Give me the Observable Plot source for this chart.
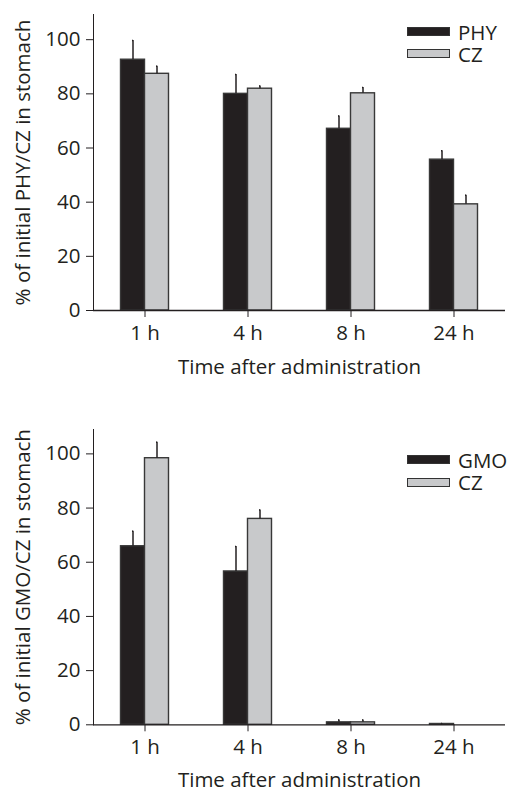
<!DOCTYPE html>
<html><head><meta charset="utf-8">
<script src="https://cdn.jsdelivr.net/npm/d3@7"></script>
<script src="https://cdn.jsdelivr.net/npm/@observablehq/plot@0.6"></script>
<style>
html,body{margin:0;padding:0;background:#fff;}
#wrap{position:relative;width:507px;height:792px;overflow:hidden;background:#fff;}
.panel{position:absolute;left:0;width:507px;}
.sw{position:absolute;width:43px;height:9px;box-sizing:border-box;border:1.5px solid #333;}
.lt{position:absolute;font-family:"Open Sans";font-size:20.5px;line-height:18px;height:18px;color:#231f20;white-space:nowrap;}
</style></head>
<body><div id="wrap"></div>
<script>
// ---- data ----
const times = ["1 h", "4 h", "8 h", "24 h"];
const yTicks = [0, 20, 40, 60, 80, 100];

const topSeries = ["PHY", "CZ"];
const phyValues = [92.6, 80.0, 67.1, 55.7];
const phyErrors = [7.1, 7.1, 4.7, 3.3];
const czTopValues = [87.4, 81.9, 80.2, 39.2];
const czTopErrors = [2.8, 1.0, 2.1, 3.4];

const bottomSeries = ["GMO", "CZ"];
const gmoValues = [65.9, 56.6, 0.9, 0.3];
const gmoErrors = [5.5, 9.2, 0.9, 0.2];
const czBottomValues = [98.4, 76.0, 0.9, 0];
const czBottomErrors = [5.9, 3.3, 0.9, 0];

const barColors = ["#231f20", "#c8c9cb"];

function rowsOf(series, valueArrays, errorArrays) {
  const rows = [];
  times.forEach((t, i) => {
    series.forEach((s, j) => {
      rows.push({time: t, series: s, value: valueArrays[j][i], error: errorArrays[j][i]});
    });
  });
  return rows;
}

function chart({series, rows, ylabel, height, marginTop, marginBottom, ymax, labelOffset}) {
  return Plot.plot({
    width: 507,
    height,
    marginLeft: 91.5,
    marginRight: 1,
    marginTop,
    marginBottom,
    style: {fontFamily: "Open Sans", fontSize: "20.5px", color: "#231f20", background: "#fff", overflow: "visible"},
    fx: {domain: times, padding: 0, axis: "bottom", tickSize: 7, tickPadding: 8,
         label: "Time after administration", labelAnchor: "center", labelOffset},
    x: {domain: series, paddingInner: 0, paddingOuter: 1.12, axis: null},
    y: {domain: [0, ymax], ticks: yTicks, tickSize: 7, tickPadding: 6, line: true,
        label: ylabel, labelAnchor: "center", labelOffset: 78, labelArrow: false},
    color: {domain: series, range: barColors},
    marks: [
      Plot.barY(rows, {fx: "time", x: "series", y: "value", fill: "series", stroke: "#383838", strokeWidth: 1.4}),
      Plot.ruleX(rows.filter(d => d.error > 0), {fx: "time", x: "series", y1: "value", y2: d => d.value + d.error, stroke: "#231f20", strokeWidth: 1.5}),
      Plot.tickY(rows.filter(d => d.error > 0), {fx: "time", x: "series", y: d => d.value + d.error, stroke: "#231f20", strokeWidth: 1.5, insetLeft: 12.5, insetRight: 12.5}),
      Plot.ruleY([0], {stroke: "#231f20", strokeWidth: 1.3})
    ]
  });
}

const wrap = document.getElementById("wrap");

function addPanel(el, top) {
  const d = document.createElement("div");
  d.className = "panel";
  d.style.top = top + "px";
  d.appendChild(el);
  wrap.appendChild(d);
}

function addLegend(series, left, tops) {
  series.forEach((s, i) => {
    const sw = document.createElement("div");
    sw.className = "sw";
    sw.style.left = left + "px";
    sw.style.top = tops[i] + "px";
    sw.style.background = barColors[i];
    wrap.appendChild(sw);
    const t = document.createElement("div");
    t.className = "lt";
    t.textContent = s;
    t.style.left = (left + 51) + "px";
    t.style.top = (tops[i] - 4.5) + "px";
    wrap.appendChild(t);
  });
}

addPanel(chart({
  series: topSeries,
  rows: rowsOf(topSeries, [phyValues, czTopValues], [phyErrors, czTopErrors]),
  ylabel: "% of initial PHY/CZ in stomach",
  height: 380, marginTop: 14, marginBottom: 70, ymax: 109.3, labelOffset: 63
}), 0);

addPanel(chart({
  series: bottomSeries,
  rows: rowsOf(bottomSeries, [gmoValues, czBottomValues], [gmoErrors, czBottomErrors]),
  ylabel: "% of initial GMO/CZ in stomach",
  height: 412, marginTop: 49, marginBottom: 67.7, ymax: 109.0, labelOffset: 62
}), 380);

addLegend(topSeries, 407, [27, 49]);
addLegend(bottomSeries, 407, [455, 477.5]);
</script>
</body></html>
